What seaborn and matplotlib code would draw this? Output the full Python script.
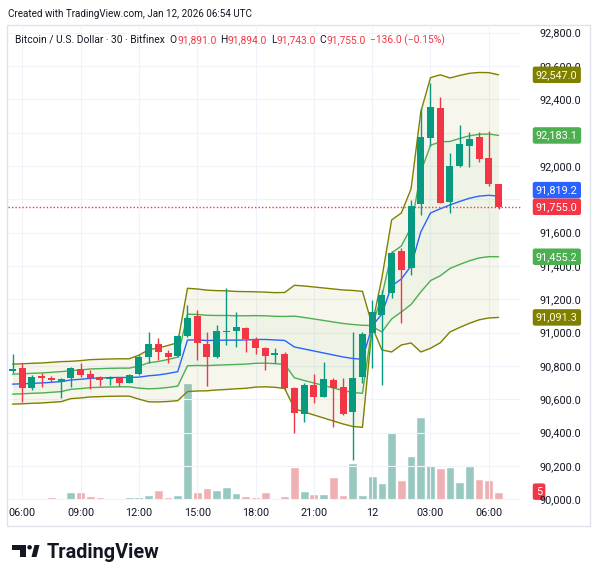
import numpy as np
import pandas as pd
import matplotlib
matplotlib.use("Agg")
import matplotlib.pyplot as plt
from matplotlib.patches import Rectangle, Polygon, Circle
from matplotlib.transforms import blended_transform_factory
import seaborn as sns

# BTC/USD 30 min bars, Bitfinex, Jan 11 05:30 -> Jan 12 06:30 UTC
opens = [90770, 90790, 90668, 90742, 90730, 90704, 90730, 90782, 90752, 90732,
         90720, 90726, 90700, 90750, 90856, 90930, 90880, 90860, 90980, 91100,
         90932, 90852, 91002, 91012, 91026, 90962, 90906, 90864, 90870, 90670,
         90510, 90686, 90616, 90716, 90676, 90522, 90736, 90996, 91106, 91236,
         91492, 91386, 91770, 92170, 92346, 91786, 92000, 92120, 92176, 92046, 91891]
highs = [90872, 90818, 90746, 90760, 90740, 90730, 90792, 90820, 90776, 90740,
         90740, 90732, 90750, 90866, 91006, 90970, 90896, 90986, 91166, 91136,
         91002, 91046, 91266, 91126, 91036, 90976, 90916, 90910, 90882, 90676,
         90696, 90750, 90822, 90726, 90726, 91006, 91006, 91196, 91256, 91490,
         91506, 91796, 92346, 92496, 92416, 92080, 92246, 92206, 92206, 92212, 91894]
lows = [90758, 90584, 90656, 90676, 90706, 90606, 90676, 90732, 90660, 90680,
        90686, 90680, 90696, 90746, 90816, 90836, 90816, 90856, 90976, 90836,
        90682, 90846, 90926, 90916, 90882, 90870, 90776, 90816, 90656, 90396,
        90466, 90576, 90616, 90436, 90506, 90236, 90700, 90790, 90686, 91206,
        91056, 91346, 91706, 92120, 91776, 91720, 91992, 91992, 92026, 91880, 91743]
closes = [90782, 90670, 90736, 90730, 90714, 90722, 90786, 90746, 90726, 90716,
          90726, 90700, 90744, 90856, 90932, 90882, 90852, 90980, 91090, 90940,
          90852, 91010, 91010, 91032, 90962, 90906, 90860, 90876, 90666, 90516,
          90686, 90616, 90720, 90670, 90510, 90730, 90990, 91122, 91226, 91476,
          91376, 91760, 92172, 92352, 91780, 92000, 92130, 92162, 92040, 91891, 91755]
volumes = [1.0, 1.0, 0.6, 1.2, 1.6, 1.2, 5.0, 5.0, 2.4, 1.6,
           1.0, 0.6, 1.6, 2.0, 2.8, 6.0, 1.8, 3.0, 70.2, 5.0,
           7.0, 5.8, 7.8, 4.2, 2.2, 1.8, 4.6, 1.4, 2.6, 19.8,
           5.4, 3.8, 3.8, 13.8, 3.0, 22.4, 3.0, 14.4, 10.4, 40.8,
           11.8, 26.4, 50.0, 20.8, 19.4, 19.8, 11.0, 20.4, 12.4, 11.8, 5.0]
# session VWAP and its standard deviation (bands at 1 and 2 sigma)
vwap = [90691, 90693, 90696, 90698, 90702, 90706, 90716, 90720, 90726, 90728,
        90730, 90731, 90731, 90733, 90741, 90746, 90755, 90766, 90956, 90956,
        90953, 90954, 90955, 90955, 90956, 90959, 90959, 90956, 90953, 90914,
        90902, 90890, 90878, 90866, 90854, 90845, 90840, 91040, 91112, 91280,
        91322, 91400, 91604, 91718, 91743, 91766, 91787, 91806, 91819, 91824, 91819.16]
vwap_dev = [60, 60, 60, 60, 60, 60, 56, 56, 56, 56,
            56, 56, 56, 66, 78, 81, 84, 87, 155, 153,
            151, 149, 148, 146, 145, 143, 142, 142, 144, 185,
            189, 192, 195, 198, 201, 204, 204, 3, 108, 198,
            198, 231, 360, 406, 402, 381, 378, 375, 371, 368, 363.93]
time_ticks = [1, 7, 13, 19, 25, 31, 37, 43, 49]
time_labels = ["06:00", "09:00", "12:00", "15:00", "18:00", "21:00", "12", "03:00", "06:00"]
price_ticks = list(range(90000, 92801, 200))
hidden_ticks = [92200, 91800]  # sit under the last-value badges

UP, DOWN = "#089981", "#F23645"
TXT = "#131722"

sns.set_theme(style="white")
plt.rcParams['font.family'] = ['Roboto', 'DejaVu Sans']

df = pd.DataFrame({"open": opens, "high": highs, "low": lows, "close": closes,
                   "volume": volumes, "vwap": vwap, "dev": vwap_dev})
df["i"] = np.arange(len(df))
df["dir"] = np.where(df["close"] >= df["open"], "up", "down")
df["upper2"] = df["vwap"] + 2 * df["dev"]
df["upper1"] = df["vwap"] + df["dev"]
df["lower1"] = df["vwap"] - df["dev"]
df["lower2"] = df["vwap"] - 2 * df["dev"]

fig = plt.figure(figsize=(6, 5.81), dpi=100)
ax = fig.add_axes([8 / 600, 81 / 581, 513 / 600, 475 / 581])
axv = ax.twinx()
ax.set_zorder(axv.get_zorder() + 1)
ax.patch.set_visible(False)

# volume at the bottom
sns.barplot(data=df, x="i", y="volume", hue="dir", palette={"up": "#90D1C6", "down": "#FAA5AB"},
            native_scale=True, width=0.9, errorbar=None, dodge=False, legend=False, ax=axv)
axv.set_ylim(0, 285)
axv.set_yticks([])
axv.set_ylabel("")

# vwap bands
ax.fill_between(df["i"], df["lower2"], df["upper2"], color="#808000", alpha=0.07, lw=0)
ax.fill_between(df["i"], df["lower1"], df["upper1"], color="#4CAF50", alpha=0.04, lw=0)
for col, c in [("upper2", "#808000"), ("lower2", "#808000"),
               ("upper1", "#4CAF50"), ("lower1", "#4CAF50"), ("vwap", "#2962FF")]:
    sns.lineplot(data=df, x="i", y=col, color=c, lw=1, ax=ax)

# candles
cols = np.where(df["dir"] == "up", UP, DOWN)
ax.vlines(df["i"], df["low"], df["high"], colors=cols, lw=1, zorder=3)
body = np.maximum((df["close"] - df["open"]).abs(), 6)
ax.bar(df["i"], body, bottom=np.minimum(df["open"], df["close"]), width=0.72,
       color=cols, lw=0, zorder=4)
ax.axhline(closes[-1], color=DOWN, lw=1, ls=(0, (1, 1.5)), zorder=2)

ax.set_xlim(-0.463, 52.31)
ax.set_ylim(89995.8, 92845.8)
ax.set_xticks(time_ticks)
ax.set_xticklabels(time_labels)
ax.yaxis.tick_right()
ax.set_yticks(price_ticks)
ax.set_yticklabels(["" if v in hidden_ticks else f"{v:,.1f}" for v in price_ticks])
ax.tick_params(axis="y", length=0, pad=13, labelsize=7.8, labelcolor=TXT)
ax.tick_params(axis="x", length=0, pad=6, labelsize=7.8, labelcolor=TXT)
ax.set_xlabel("")
ax.set_ylabel("")
ax.grid(True, color="#F0F3FA", lw=0.8)
ax.set_axisbelow(True)
for a in (ax, axv):
    for s in a.spines.values():
        s.set_visible(False)

# price badges on the scale
tr = blended_transform_factory(ax.transAxes, ax.transData)
xb = (536 - 8) / 513
last = df.iloc[-1]
badges = [(last["upper2"], last["upper2"], "#808000", "#FFFDE0"),
          (last["upper1"], last["upper1"], "#4CAF50", "white"),
          (last["close"] + 100, last["vwap"], "#2962FF", "white"),
          (last["close"], last["close"], DOWN, "white"),
          (last["lower1"], last["lower1"], "#4CAF50", "white"),
          (last["lower2"], last["lower2"], "#808000", "#FFFDE0")]
for ypos, val, bg, fg in badges:
    ax.text(xb, ypos, f"{val:,.1f}", transform=tr, ha="left", va="center", fontsize=7.8,
            color=fg, zorder=10, clip_on=False,
            bbox=dict(boxstyle="round,pad=0.3,rounding_size=0.2", fc=bg, ec="none"))
trv = blended_transform_factory(axv.transAxes, axv.transData)
axv.text((536 - 8) / 513, volumes[-1], f"{volumes[-1]:.0f}", transform=trv, ha="left", va="center",
         fontsize=7.8, color="white", zorder=10, clip_on=False,
         bbox=dict(boxstyle="round,pad=0.3,rounding_size=0.2", fc=DOWN, ec="none"))

# frame
fig.add_artist(Rectangle((7 / 600, 1 - 526 / 581), 583 / 600, 501 / 581, transform=fig.transFigure,
                         fill=False, ec="#E0E3EB", lw=1))

# texts
renderer = fig.canvas.get_renderer()


def write_seq(x, y, pieces, size):
    for txt, color, gap in pieces:
        t = fig.text(x / 600, 1 - y / 581, txt, color=color, fontsize=size, va="center", ha="left")
        bb = t.get_window_extent(renderer)
        x = bb.x1 + gap


fig.text(8 / 600, 1 - 14 / 581, "Created with TradingView.com, Jan 12, 2026 06:54 UTC",
         fontsize=7.1, color=TXT, va="center", ha="left")
chg = closes[-1] - closes[-2]
pct = chg / closes[-2] * 100
write_seq(15, 40, [("Bitcoin / U.S. Dollar · 30 · Bitfinex", TXT, 5),
                   ("O", TXT, 0), (f"{opens[-1]:,.1f}", DOWN, 4),
                   ("H", TXT, 0), (f"{highs[-1]:,.1f}", DOWN, 4),
                   ("L", TXT, 0), (f"{lows[-1]:,.1f}", DOWN, 4),
                   ("C", TXT, 0), (f"{closes[-1]:,.1f}", DOWN, 4),
                   (f"\u2212{abs(chg):,.1f} (\u2212{abs(pct):.2f}%)", DOWN, 0)], 7.4)

# logo
fig.add_artist(Polygon([(11.7 / 600, 1 - 545 / 581), (26 / 600, 1 - 545 / 581), (26 / 600, 1 - 557 / 581),
                        (20 / 600, 1 - 557 / 581), (20 / 600, 1 - 549.5 / 581), (11.7 / 600, 1 - 549.5 / 581)],
                       closed=True, transform=fig.transFigure, fc=TXT, ec="none"))
fig.add_artist(Circle((29.6 / 600, 1 - 547.3 / 581), 2.3 / 600, transform=fig.transFigure, fc=TXT, ec="none"))
fig.add_artist(Polygon([(34.5 / 600, 1 - 545 / 581), (39.5 / 600, 1 - 545 / 581), (36.5 / 600, 1 - 557 / 581),
                        (31.5 / 600, 1 - 557 / 581)], closed=True, transform=fig.transFigure, fc=TXT, ec="none"))
fig.text(47 / 600, 1 - 552 / 581, "TradingView", fontsize=14.3, fontweight="bold", color=TXT,
         va="center", ha="left")

fig.savefig("out.png", dpi=100, facecolor="white")
